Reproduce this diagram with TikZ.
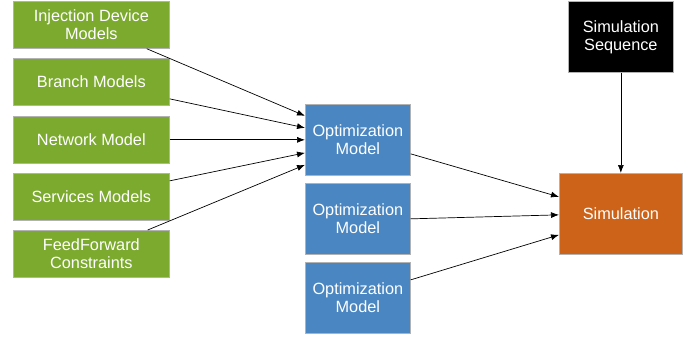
\documentclass[tikz,border=0pt]{standalone}
\usepackage{fontspec}
\setmainfont{Liberation Sans}
\usetikzlibrary{arrows.meta, positioning}
\definecolor{mgreen}{HTML}{7BAA2F}
\definecolor{oblue}{HTML}{4A86C1}
\definecolor{sorange}{HTML}{CC6318}

\begin{document}
\begin{tikzpicture}[x=1pt, y=-1pt,
  box/.style={draw=gray!60, line width=0.7pt, text=white, align=center,
              anchor=north west, inner sep=0pt,
              font=\fontsize{16.3}{18}\selectfont},
  model/.style={box, fill=mgreen, minimum width=156pt, minimum height=47pt},
  optim/.style={box, fill=oblue, minimum width=105pt, minimum height=71pt},
  arr/.style={-{Latex[length=8pt,width=6pt]}, line width=0.7pt}]
\useasboundingbox (0,0) rectangle (697,337);
%
\node[model] (m1) at (13,1)   {Injection Device\\Models};
\node[model] (m2) at (13,58)  {Branch Models};
\node[model] (m3) at (13,116) {Network Model};
\node[model] (m4) at (13,173) {Services Models};
\node[model] (m5) at (13,230) {FeedForward\\Constraints};
%
\node[optim] (o1) at (305,104) {Optimization\\Model};
\node[optim] (o2) at (305,183) {Optimization\\Model};
\node[optim] (o3) at (305,262) {Optimization\\Model};
%
\node[box, fill=sorange, minimum width=123pt, minimum height=81pt] (sim) at (559,173) {Simulation};
\node[box, fill=black, minimum width=105pt, minimum height=71pt] (seq) at (568,1) {Simulation\\Sequence};
%
\draw[arr] ([xshift=-23pt]m1.south east) -- ([yshift=24pt]o1.west);
\draw[arr] ([yshift=-17pt]m2.east) -- ([yshift=12pt]o1.west);
\draw[arr] (m3.east) -- (o1.west);
\draw[arr] ([yshift=16pt]m4.east) -- ([yshift=-13pt]o1.west);
\draw[arr] ([xshift=-22pt]m5.north east) -- ([yshift=-25pt]o1.west);
%
\draw[arr] ([yshift=-14pt]o1.east) -- ([yshift=17pt]sim.west);
\draw[arr] (o2.east) -- ([yshift=-1pt]sim.west);
\draw[arr] ([yshift=18pt]o3.east) -- ([yshift=-21pt]sim.west);
\draw[arr] (seq.south) -- (sim.north);
%
\end{tikzpicture}
\end{document}
